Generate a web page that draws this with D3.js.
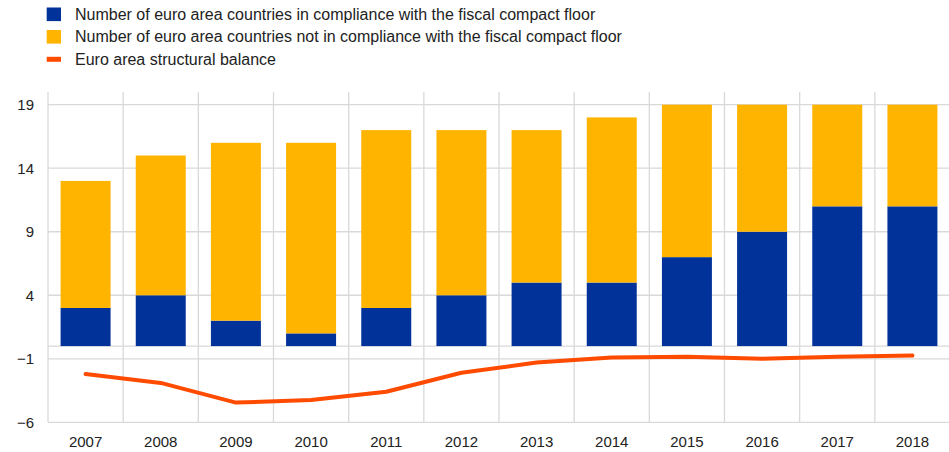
<!DOCTYPE html>
<html><head><meta charset="utf-8">
<script src="https://cdn.jsdelivr.net/npm/d3@7"></script>
<style>body{margin:0;background:#fff;}svg{display:block;font-family:"Liberation Sans",Arial,sans-serif;}</style>
</head><body>
<svg id="c" width="949" height="452"></svg>
<script>
const years = ["2007","2008","2009","2010","2011","2012","2013","2014","2015","2016","2017","2018"];
const compliant = [3,4,2,1,3,4,5,5,7,9,11,11];
const nonCompliant = [10,11,14,15,14,13,12,13,12,10,8,8];
const structuralBalance = [-2.2,-2.9,-4.45,-4.25,-3.6,-2.1,-1.3,-0.9,-0.85,-1.0,-0.85,-0.75];
const yTicks = [-6,-1,4,9,14,19];
const legendLabels = ["Number of euro area countries in compliance with the fiscal compact floor","Number of euro area countries not in compliance with the fiscal compact floor","Euro area structural balance"];
const colors = {blue:"#003299", yellow:"#FFB400", orange:"#FF4B00", grid:"#d9d9d9"};

const svg = d3.select("#c");
const L=48, R=950, T=92, B=422.3;
const x = d3.scaleBand().domain(years).range([L,R]).paddingInner(0.335).paddingOuter(0.1675);
const y = d3.scaleLinear().domain([-6,19]).range([B,104.7]);
const xb = d3.scaleBand().domain(years).range([L,R]);

// grid
const g = svg.append("g");
g.selectAll(".hg").data(yTicks.concat([0])).join("line")
  .attr("x1",L).attr("x2",R).attr("y1",d=>y(d)).attr("y2",d=>y(d))
  .attr("stroke",colors.grid).attr("stroke-width",1.3);
const vb = years.map(d=>xb(d)).concat([R]);
g.selectAll(".vg").data(vb).join("line")
  .attr("x1",d=>d).attr("x2",d=>d).attr("y1",T).attr("y2",B)
  .attr("stroke",colors.grid).attr("stroke-width",1.3);

// bars
const stack = years.map((yr,i)=>({yr, c:compliant[i], n:nonCompliant[i]}));
svg.append("g").selectAll("rect").data(stack).join("rect")
  .attr("x",d=>x(d.yr)).attr("width",x.bandwidth())
  .attr("y",d=>y(d.c)).attr("height",d=>y(0)-y(d.c)).attr("fill",colors.blue);
svg.append("g").selectAll("rect").data(stack).join("rect")
  .attr("x",d=>x(d.yr)).attr("width",x.bandwidth())
  .attr("y",d=>y(d.c+d.n)).attr("height",d=>y(d.c)-y(d.c+d.n)).attr("fill",colors.yellow);

// line
const line = d3.line().x((d,i)=>x(years[i])+x.bandwidth()/2).y(d=>y(d));
svg.append("path").datum(structuralBalance).attr("d",line)
  .attr("fill","none").attr("stroke",colors.orange).attr("stroke-width",4).attr("stroke-linecap","round").attr("stroke-linejoin","round");

// axes labels
const yAxis = d3.axisLeft(y).tickValues(yTicks).tickSize(0).tickPadding(14);
const ya = svg.append("g").attr("transform",`translate(${L},0)`).call(yAxis);
ya.select(".domain").remove();
ya.selectAll("text").attr("font-size",15).attr("fill","#222").attr("font-family","Liberation Sans, Arial, sans-serif");
const xAxis = d3.axisBottom(x).tickSize(0).tickPadding(14);
const xa = svg.append("g").attr("transform",`translate(0,${B})`).call(xAxis);
xa.select(".domain").remove();
xa.selectAll("text").attr("font-size",15).attr("fill","#222").attr("font-family","Liberation Sans, Arial, sans-serif");

// legend
const lg = svg.append("g");
legendLabels.forEach((t,i)=>{
  const cy = 14.3 + i*22.5;
  if(i<2){
    lg.append("rect").attr("x",46.7).attr("y",cy-6.8).attr("width",14.3).attr("height",13.6).attr("fill",i===0?colors.blue:colors.yellow);
  } else {
    lg.append("rect").attr("x",46.7).attr("y",cy-2.5).attr("width",14.3).attr("height",5).attr("fill",colors.orange);
  }
  lg.append("text").attr("x",75).attr("y",cy).attr("dy","0.35em").attr("font-size",16).attr("fill","#222").text(t);
});
</script>
</body></html>
